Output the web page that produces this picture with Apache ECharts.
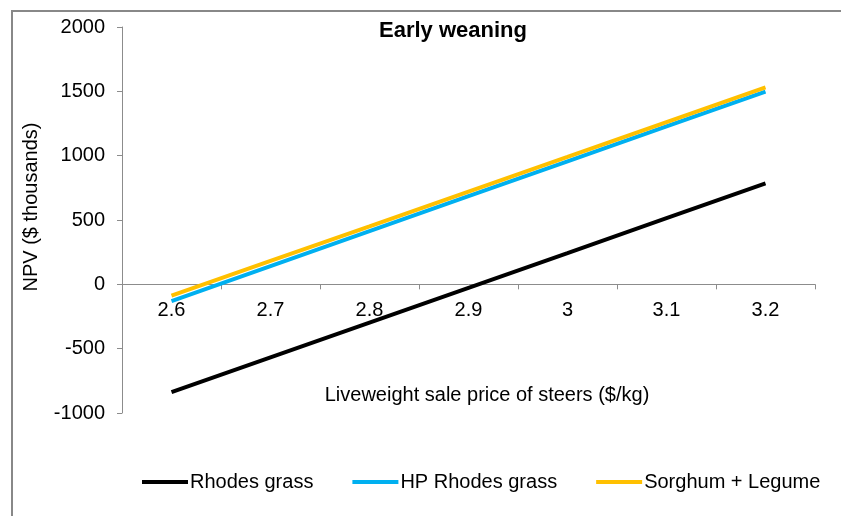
<!DOCTYPE html>
<html>
<head>
<meta charset="utf-8">
<script src="https://cdn.jsdelivr.net/npm/echarts@6/dist/echarts.min.js"></script>
<style>
  html, body { margin: 0; padding: 0; background: #fff; }
  #chart { width: 841px; height: 516px; }
</style>
</head>
<body>
<div id="chart"></div>
<script>
// Steer sale prices ($/kg)
const prices = ['2.6', '2.7', '2.8', '2.9', '3', '3.1', '3.2'];
// NPV in $ thousands for each pasture system
const rhodesGrass = [-838, -567, -297, -27, 243, 514, 784];
const hpRhodesGrass = [-130, 142, 413, 685, 956, 1228, 1498];
const sorghumLegume = [-88, 182, 451, 721, 990, 1260, 1530];
const yTicks = { min: -1000, max: 2000, step: 500 };

const FONT = '"Liberation Sans", Arial, sans-serif';
const AXIS_GREY = '#8c8c8c';

const GRID_TOP = 27;
const GRID_BOTTOM = 103;
const CHART_H = 516;

const chart = echarts.init(document.getElementById('chart'), null, { renderer: 'canvas' });

// Pixel distance from the plot's bottom edge up to the zero line, so the
// category axis (with its labels) sits on y = 0.
const plotH = CHART_H - GRID_TOP - GRID_BOTTOM;
const zeroLift = plotH * (0 - yTicks.min) / (yTicks.max - yTicks.min);

function lineSeries(name, data, color) {
  return {
    name: name,
    type: 'line',
    data: data,
    symbol: 'none',
    lineStyle: { color: color, width: 4 },
    itemStyle: { color: color },
    z: 3
  };
}

chart.setOption({
  animation: false,
  backgroundColor: '#fff',
  title: {
    text: 'Early weaning',
    left: 448,
    top: 15,
    textAlign: 'center',
    textStyle: { fontFamily: FONT, fontSize: 22, fontWeight: 'bold', color: '#000' }
  },
  grid: { left: 122, right: 26, top: GRID_TOP, bottom: GRID_BOTTOM, containLabel: false },
  xAxis: {
    type: 'category',
    data: prices,
    boundaryGap: true,
    offset: -zeroLift,
    axisLine: { onZero: false, lineStyle: { color: AXIS_GREY, width: 1 } },
    axisTick: { show: true, alignWithLabel: false, length: 5, lineStyle: { color: AXIS_GREY } },
    axisLabel: { fontFamily: FONT, fontSize: 20, color: '#000', margin: 16 },
    splitLine: { show: false }
  },
  yAxis: {
    type: 'value',
    min: yTicks.min,
    max: yTicks.max,
    interval: yTicks.step,
    axisLine: { show: true, lineStyle: { color: AXIS_GREY, width: 1 } },
    axisTick: { show: true, length: 5, inside: false, lineStyle: { color: AXIS_GREY } },
    axisLabel: {
      fontFamily: FONT, fontSize: 20, color: '#000', margin: 17,
      formatter: function (v) { return String(v); }
    },
    splitLine: { show: false }
  },
  legend: {
    top: 472,
    left: 142,
    padding: 0,
    itemWidth: 46,
    itemHeight: 4,
    itemGap: 39,
    icon: 'rect',
    textStyle: { fontFamily: FONT, fontSize: 20, color: '#000', padding: [0, 0, 0, -3] },
    data: ['Rhodes grass', 'HP Rhodes grass', 'Sorghum + Legume']
  },
  graphic: [
    {
      type: 'rect',
      shape: { x: 12, y: 11, width: 900, height: 600 },
      style: { fill: 'none', stroke: '#888', lineWidth: 2 },
      silent: true
    },
    {
      type: 'text',
      x: 31,
      y: 207,
      rotation: Math.PI / 2,
      style: {
        text: 'NPV ($ thousands)',
        fontFamily: FONT,
        fontSize: 20,
        fill: '#000',
        align: 'center',
        verticalAlign: 'middle'
      }
    },
    {
      type: 'text',
      x: 487,
      y: 395,
      style: {
        text: 'Liveweight sale price of steers ($/kg)',
        fontFamily: FONT,
        fontSize: 20,
        fill: '#000',
        align: 'center',
        verticalAlign: 'middle'
      }
    }
  ],
  series: [
    lineSeries('Rhodes grass', rhodesGrass, '#000000'),
    lineSeries('HP Rhodes grass', hpRhodesGrass, '#00B0F0'),
    lineSeries('Sorghum + Legume', sorghumLegume, '#FFC000')
  ]
});
</script>
</body>
</html>
